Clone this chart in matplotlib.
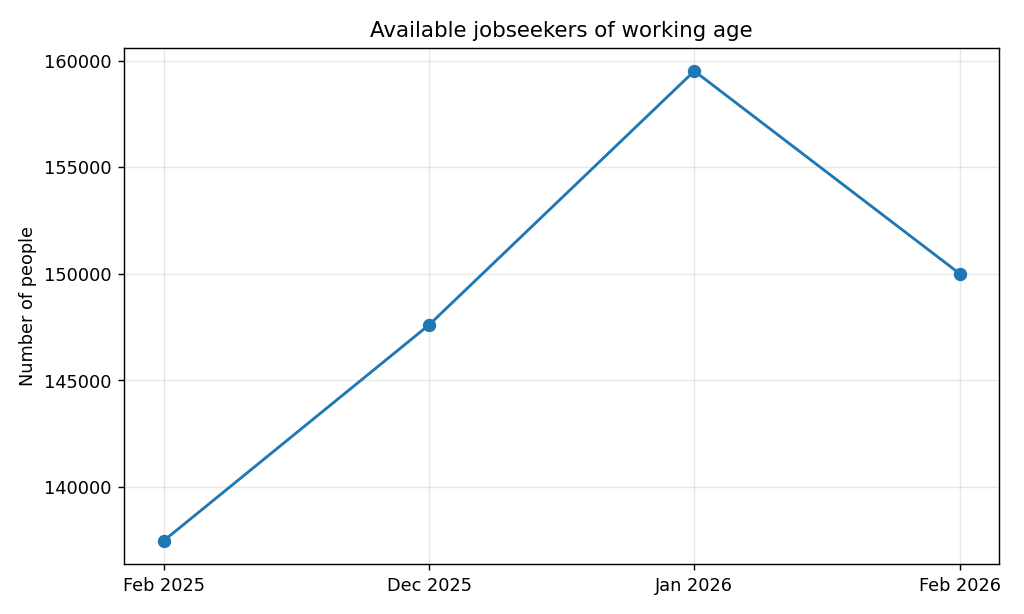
import matplotlib
matplotlib.use('Agg')
import matplotlib.pyplot as plt

months = ['Feb 2025', 'Dec 2025', 'Jan 2026', 'Feb 2026']
jobseekers = [137460, 147590, 159510, 150000]

fig, ax = plt.subplots(figsize=(8, 4.8), dpi=128)
ax.plot(months, jobseekers, marker='o', color='#1f77b4', linewidth=1.6, markersize=6.5)
ax.set_title('Available jobseekers of working age')
ax.set_ylabel('Number of people')
ax.grid(True, alpha=0.3)

fig.subplots_adjust(left=0.121, right=0.976, top=0.922, bottom=0.081)
fig.savefig('out.png')
